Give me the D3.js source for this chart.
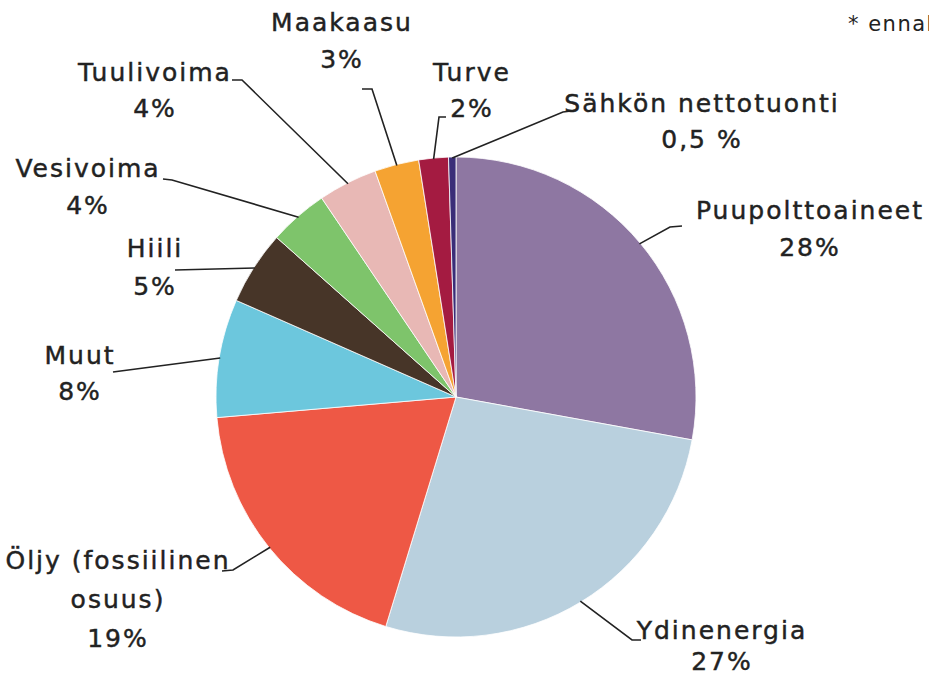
<!DOCTYPE html>
<html>
<head>
<meta charset="utf-8">
<script src="https://cdn.jsdelivr.net/npm/d3@7"></script>
<style>
  body { margin: 0; background: #fff; }
  svg text { font-family: "DejaVu Sans", sans-serif; fill: #222; }
</style>
</head>
<body>
<div id="chart"></div>
<script>
const categories = ["Puupolttoaineet", "Ydinenergia", "Öljy (fossiilinen osuus)", "Muut", "Hiili",
                    "Vesivoima", "Tuulivoima", "Maakaasu", "Turve", "Sähkön nettotuonti"];
const values = [28, 27, 19, 8, 5, 4, 4, 3, 2, 0.5];
const valueLabels = ["28%", "27%", "19%", "8%", "5%", "4%", "4%", "3%", "2%", "0,5 %"];
const colors = ["#8e77a2", "#b9d0de", "#ee5845", "#6cc7dd", "#473528",
                "#7ec46b", "#e8b8b5", "#f5a332", "#a41b41", "#3a2d78"];

// label placement: text lines, centre x, first baseline, line gap, leader elbow and end
const labelLayout = [
  { lines: ["Puupolttoaineet"], x: 810, y: 219, gap: 37, elbow: [670, 227], end: [682, 226] },
  { lines: ["Ydinenergia"], x: 722, y: 639, gap: 31, elbow: [632, 640], end: [641, 640] },
  { lines: ["Öljy (fossiilinen", "osuus)"], x: 118, y: 569, gap: 39, elbow: [233, 570], end: [222, 571] },
  { lines: ["Muut"], x: 80, y: 364, gap: 36, elbow: [113, 372], end: [113, 372] },
  { lines: ["Hiili"], x: 155, y: 257, gap: 38, elbow: [175, 270], end: [175, 270] },
  { lines: ["Vesivoima"], x: 88, y: 177, gap: 37, elbow: [172, 180], end: [163, 179] },
  { lines: ["Tuulivoima"], x: 155, y: 81, gap: 36, elbow: [242, 80], end: [232, 80] },
  { lines: ["Maakaasu"], x: 342, y: 31, gap: 37, elbow: [372, 89], end: [362, 89] },
  { lines: ["Turve"], x: 472, y: 81, gap: 36, elbow: [439, 117], end: [446, 117] },
  { lines: ["Sähkön nettotuonti"], x: 702, y: 112, gap: 36, elbow: [563, 112], end: [571, 111] }
];

const width = 929, height = 676;
const cx = 456, cy = 397, radius = 240;

const svg = d3.select("#chart").append("svg")
    .attr("width", width)
    .attr("height", height);

const pie = d3.pie().sort(null).value(d => d);
const arcs = pie(values);
const arc = d3.arc().innerRadius(0).outerRadius(radius);

const g = svg.append("g").attr("transform", `translate(${cx},${cy})`);

g.selectAll("path.slice")
    .data(arcs)
    .join("path")
    .attr("class", "slice")
    .attr("d", arc)
    .attr("fill", (d, i) => colors[i])
    .attr("stroke", "#fff")
    .attr("stroke-width", 0.8);

// leader lines start on the rim at each slice's mid angle
const rim = d3.arc().innerRadius(radius - 1).outerRadius(radius - 1);
svg.selectAll("polyline.leader")
    .data(arcs)
    .join("polyline")
    .attr("class", "leader")
    .attr("points", (d, i) => {
        const p = rim.centroid(d);
        const L = labelLayout[i];
        return [[p[0] + cx, p[1] + cy], L.elbow, L.end].map(q => q.join(",")).join(" ");
    })
    .attr("fill", "none")
    .attr("stroke", "#222")
    .attr("stroke-width", 1.6);

const labels = svg.selectAll("text.label")
    .data(arcs)
    .join("text")
    .attr("class", "label")
    .attr("text-anchor", "middle")
    .style("font-size", "25px")
    .style("letter-spacing", "2px")
    .style("stroke", "#222")
    .style("stroke-width", "0.45px");

labels.each(function(d, i) {
    const L = labelLayout[i];
    const t = d3.select(this);
    L.lines.concat([valueLabels[i]]).forEach((s, k) => {
        t.append("tspan")
            .attr("x", L.x)
            .attr("y", L.y + k * L.gap)
            .text(s);
    });
});

// footnote, cut by the right edge as in the original
svg.append("text")
    .attr("x", 848)
    .attr("y", 31)
    .style("font-size", "21px")
    .style("letter-spacing", "1.5px")
    .text("* ennakkotieto");
</script>
</body>
</html>
